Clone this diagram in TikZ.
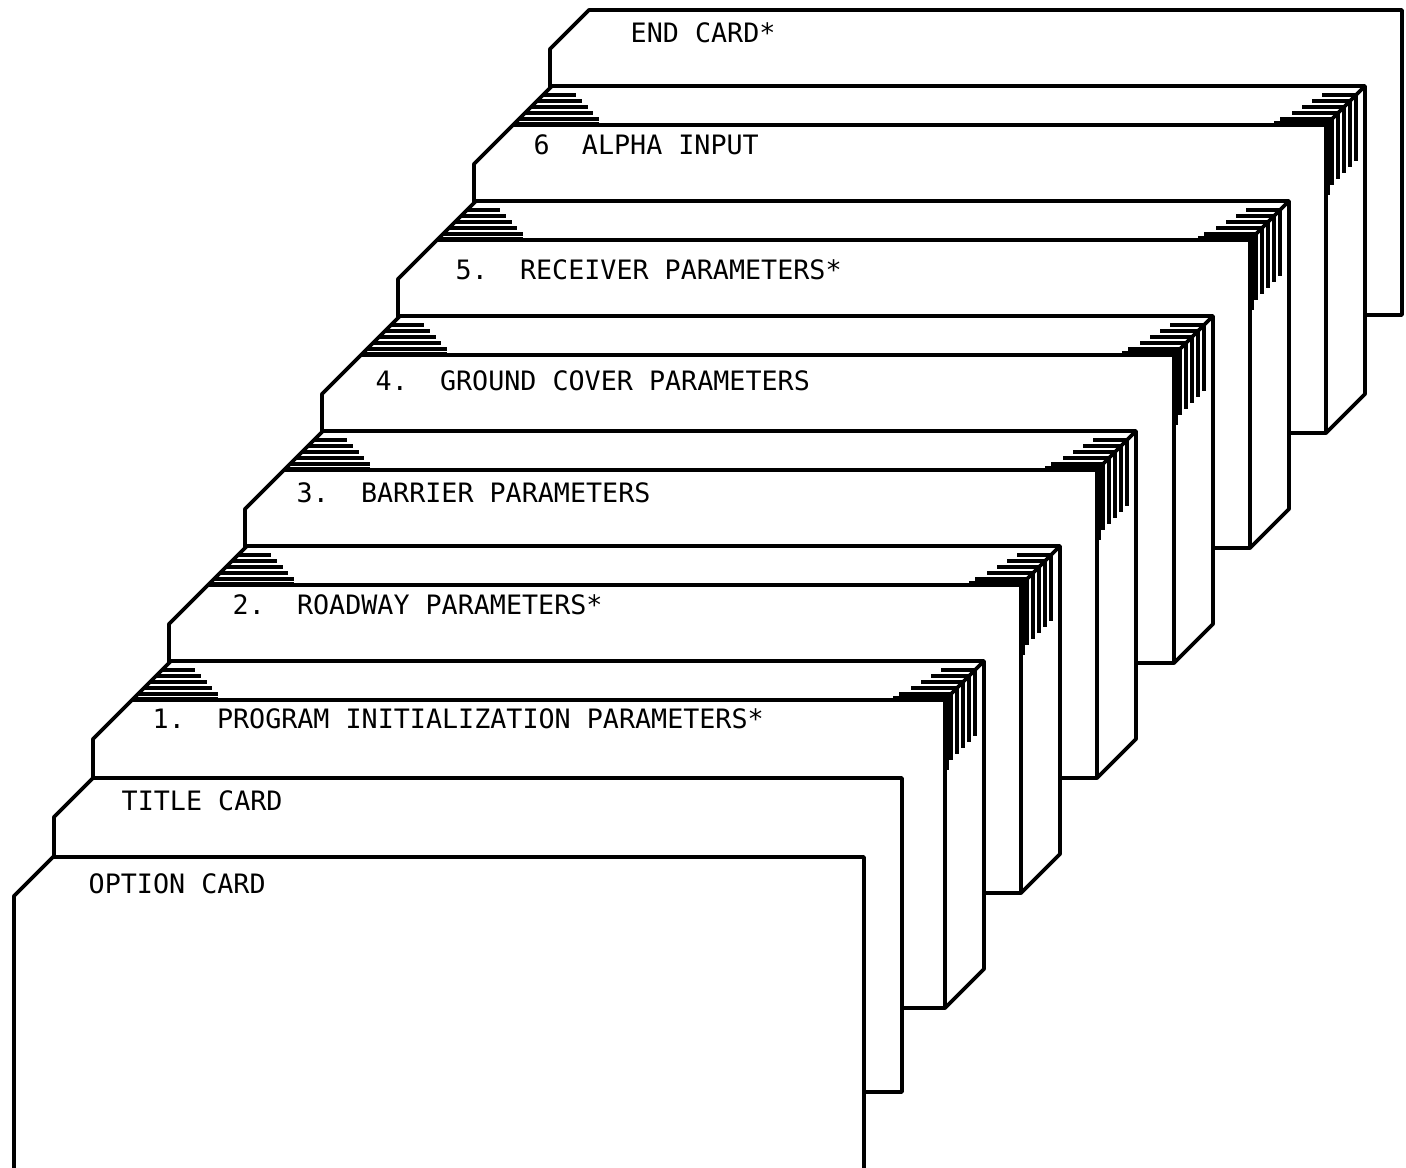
\documentclass[tikz,border=0pt]{standalone}
\usepackage{fontspec}
\newfontfamily\cardfont{DejaVu Sans Mono}

\tikzset{
	edge/.style={line width=1.1pt, line join=round},
	hatch/.style={line width=0.9pt},
	cardtext/.style={font=\cardfont\fontsize{7.6}{9}\selectfont, anchor=west, inner sep=0pt}
}

\newcommand{\carddeck}[2]{%
	\begin{scope}[shift={(#1,#2)}]
		\filldraw[edge, fill=white] (0,308) -- (0,39) -- (78,-39) -- (891,-39) -- (891,269) -- (852,308) -- cycle;
		\draw[edge] (39,0) -- (852,0) -- (852,308) (852,0) -- (891,-39);
		\draw[line width=1.6pt] (800,-1) -- (853,-1) -- (853,70);
		\draw[line width=1.4pt] (39,-1) -- (125,-1);
		\foreach \t/\a/\b in {6/80/52, 12/68/46, 18/57/42, 24/45/38, 30/33/34} {
			\draw[hatch] (39+\t,-\t) -- ++(\a,0);
			\draw[hatch] (852+\t-\b,-\t) -- (852+\t,-\t) -- ++(0,66);
		}
	\end{scope}}

\newcommand{\onecard}[4]{%
	\filldraw[edge, fill=white] (#1,#2+#4) -- (#1,#2+39) -- (#1+39,#2) -- (#1+#3,#2) -- (#1+#3,#2+#4) -- cycle;}

\begin{document}
\begin{tikzpicture}[x=0.1mm, y=-0.1mm]
	\useasboundingbox (0,0) rectangle (1406,1168);
	\clip (0,0) rectangle (1406,1168);

	\onecard{550}{10}{852}{305}
	\node[cardtext] (endtxt) at (630,33) {END CARD*};

	\carddeck{474}{125}
	\node[cardtext] (alphatxt) at (533,145) {6\ \ ALPHA INPUT};
	\carddeck{398}{240}
	\node[cardtext] (receivertxt) at (455,270) {5.\ \ RECEIVER PARAMETERS*};
	\carddeck{322}{355}
	\node[cardtext] (groundtxt) at (375,381) {4.\ \ GROUND COVER PARAMETERS};
	\carddeck{245}{470}
	\node[cardtext] (barriertxt) at (296,493) {3.\ \ BARRIER PARAMETERS};
	\carddeck{169}{585}
	\node[cardtext] (roadwaytxt) at (232,605) {2.\ \ ROADWAY PARAMETERS*};
	\carddeck{93}{700}
	\node[cardtext] (progtxt) at (152,719) {1.\ \ PROGRAM INITIALIZATION PARAMETERS*};

	\onecard{54}{778}{848}{314}
	\node[cardtext] (titletxt) at (121,801) {TITLE CARD};
	\onecard{14}{857}{850}{330}
	\node[cardtext] (optiontxt) at (88,884) {OPTION CARD};
\end{tikzpicture}
\end{document}
